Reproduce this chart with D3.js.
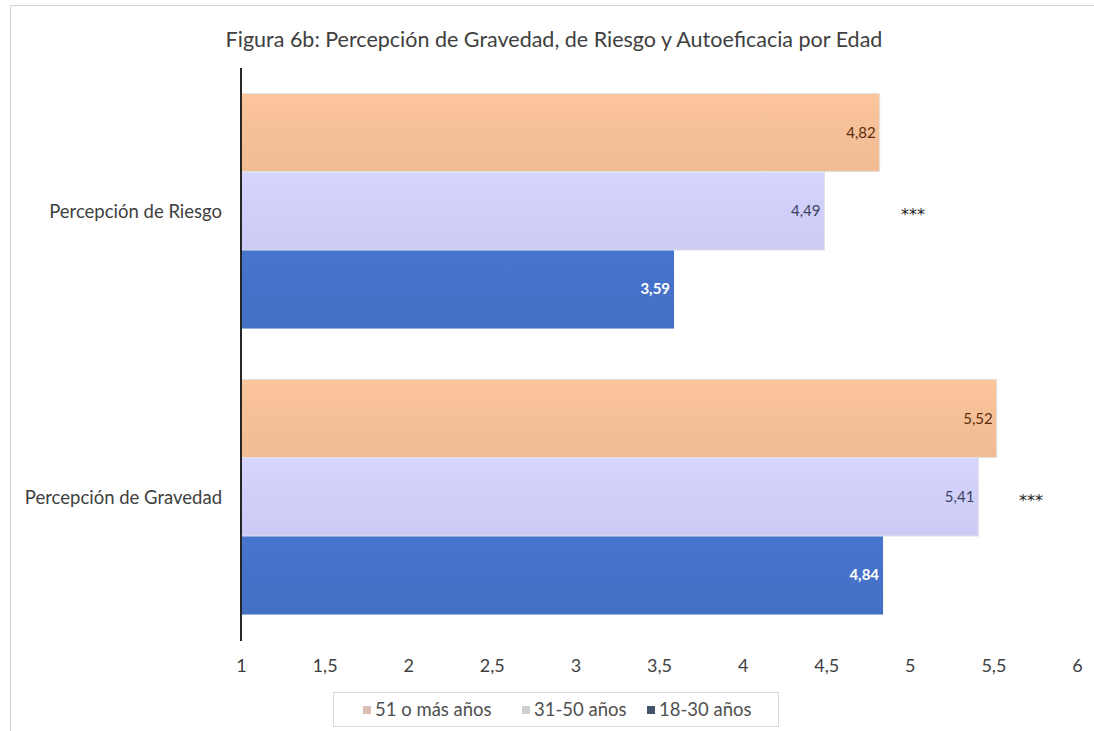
<!DOCTYPE html>
<html><head><meta charset="utf-8">
<script src="https://cdn.jsdelivr.net/npm/d3@7"></script>
<style>body{margin:0;background:#fff;} svg{display:block;font-family:Lato,"Noto Sans",sans-serif;}</style>
</head><body>
<svg id="c" width="1094" height="731"></svg>
<script>
const title = "Figura 6b: Percepción de Gravedad, de Riesgo y Autoeficacia por Edad";
const categories = ["Percepción de Riesgo", "Percepción de Gravedad"];
const seriesNames = ["51 o más años", "31-50 años", "18-30 años"];
const values51 = [4.82, 5.52];
const values31 = [4.49, 5.41];
const values18 = [3.59, 4.84];
const significance = ["***", "***"];
const tickValues = [1, 1.5, 2, 2.5, 3, 3.5, 4, 4.5, 5, 5.5, 6];
const tickLabels = ["1", "1,5", "2", "2,5", "3", "3,5", "4", "4,5", "5", "5,5", "6"];

const seriesValues = [values51, values31, values18];
const fills = ["#F5BF97", "#CFCFFA", "#4572C8"];
const labelColors = ["#5b2e0e", "#3b4262", "#ffffff"];
const legendColors = ["#d8bfb2", "#cfcfcf", "#44546a"];

const svg = d3.select("#c");
svg.append("path").attr("d","M10.5,731 L10.5,5.5 L1094,5.5").attr("fill","none").attr("stroke","#d4d4d4").attr("stroke-width",1);

svg.append("text").attr("x",554).attr("y",47).attr("text-anchor","middle")
  .attr("font-size",21.5).attr("fill","#404040").text(title);

const x = d3.scaleLinear().domain([1,6]).range([241,1077]);
const y = d3.scaleBand().domain(categories).range([68,640]).paddingInner(0.178).paddingOuter(0.089);
const yi = d3.scaleBand().domain(d3.range(seriesNames.length)).range([0,y.bandwidth()]).paddingInner(0.005);

const defs = svg.append("defs");
fills.forEach((f,i)=>{
  const g = defs.append("linearGradient").attr("id","g"+i).attr("x1","0").attr("x2","0").attr("y1","0").attr("y2","1");
  const c = d3.color(f);
  g.append("stop").attr("offset","0").attr("stop-color",c.brighter(0.08));
  g.append("stop").attr("offset","0.5").attr("stop-color",f);
  g.append("stop").attr("offset","1").attr("stop-color",c.darker(0.05));
});

categories.forEach((cat,ci)=>{
  const g = svg.append("g").attr("transform",`translate(0,${y(cat)})`);
  seriesValues.forEach((vals,si)=>{
    const v = vals[ci];
    g.append("rect").attr("x",x(1)).attr("y",yi(si)).attr("width",x(v)-x(1)).attr("height",yi.bandwidth())
      .attr("fill","url(#g"+si+")").attr("stroke", si===2? "none" : "#e2e2e2").attr("stroke-width",1);
    g.append("text").attr("x",x(v)-4).attr("y",yi(si)+yi.bandwidth()/2+5).attr("text-anchor","end")
      .attr("font-size",15).attr("font-weight", si===2? "bold":"normal").attr("fill",labelColors[si])
      .text(d3.format(".2f")(v).replace(".",","));
  });
  svg.append("text").attr("x", ci===0 ? 913 : 1031).attr("y", y(cat)+y.bandwidth()/2+9)
    .attr("text-anchor","middle").attr("font-size",16).attr("font-family","'DejaVu Sans',sans-serif")
    .attr("fill","#222").text(significance[ci]);
  svg.append("text").attr("x",222).attr("y",y(cat)+y.bandwidth()/2+7).attr("text-anchor","end")
    .attr("font-size",18.5).attr("fill","#404040").text(cat);
});

svg.append("line").attr("x1",x(1)).attr("x2",x(1)).attr("y1",68).attr("y2",641).attr("stroke","#262626").attr("stroke-width",2);

const xAxis = d3.axisBottom(x).tickValues(tickValues).tickSize(0).tickPadding(0)
  .tickFormat((d,i)=>tickLabels[i]);
const ax = svg.append("g").attr("transform","translate(0,659)").call(xAxis);
ax.select(".domain").remove();
ax.selectAll("text").attr("font-size",18).attr("fill","#404040").attr("font-family","Lato,'Noto Sans',sans-serif");

const lg = svg.append("g");
lg.append("rect").attr("x",333.5).attr("y",692.5).attr("width",445).attr("height",34).attr("fill","#fff").attr("stroke","#d9d9d9");
const lx = [363, 522, 647];
seriesNames.forEach((n,i)=>{
  lg.append("rect").attr("x",lx[i]).attr("y",706).attr("width",8).attr("height",8).attr("fill",legendColors[i]);
  lg.append("text").attr("x",lx[i]+12).attr("y",716).attr("font-size",18.5).attr("fill","#505050").text(n);
});
</script>
</body></html>
